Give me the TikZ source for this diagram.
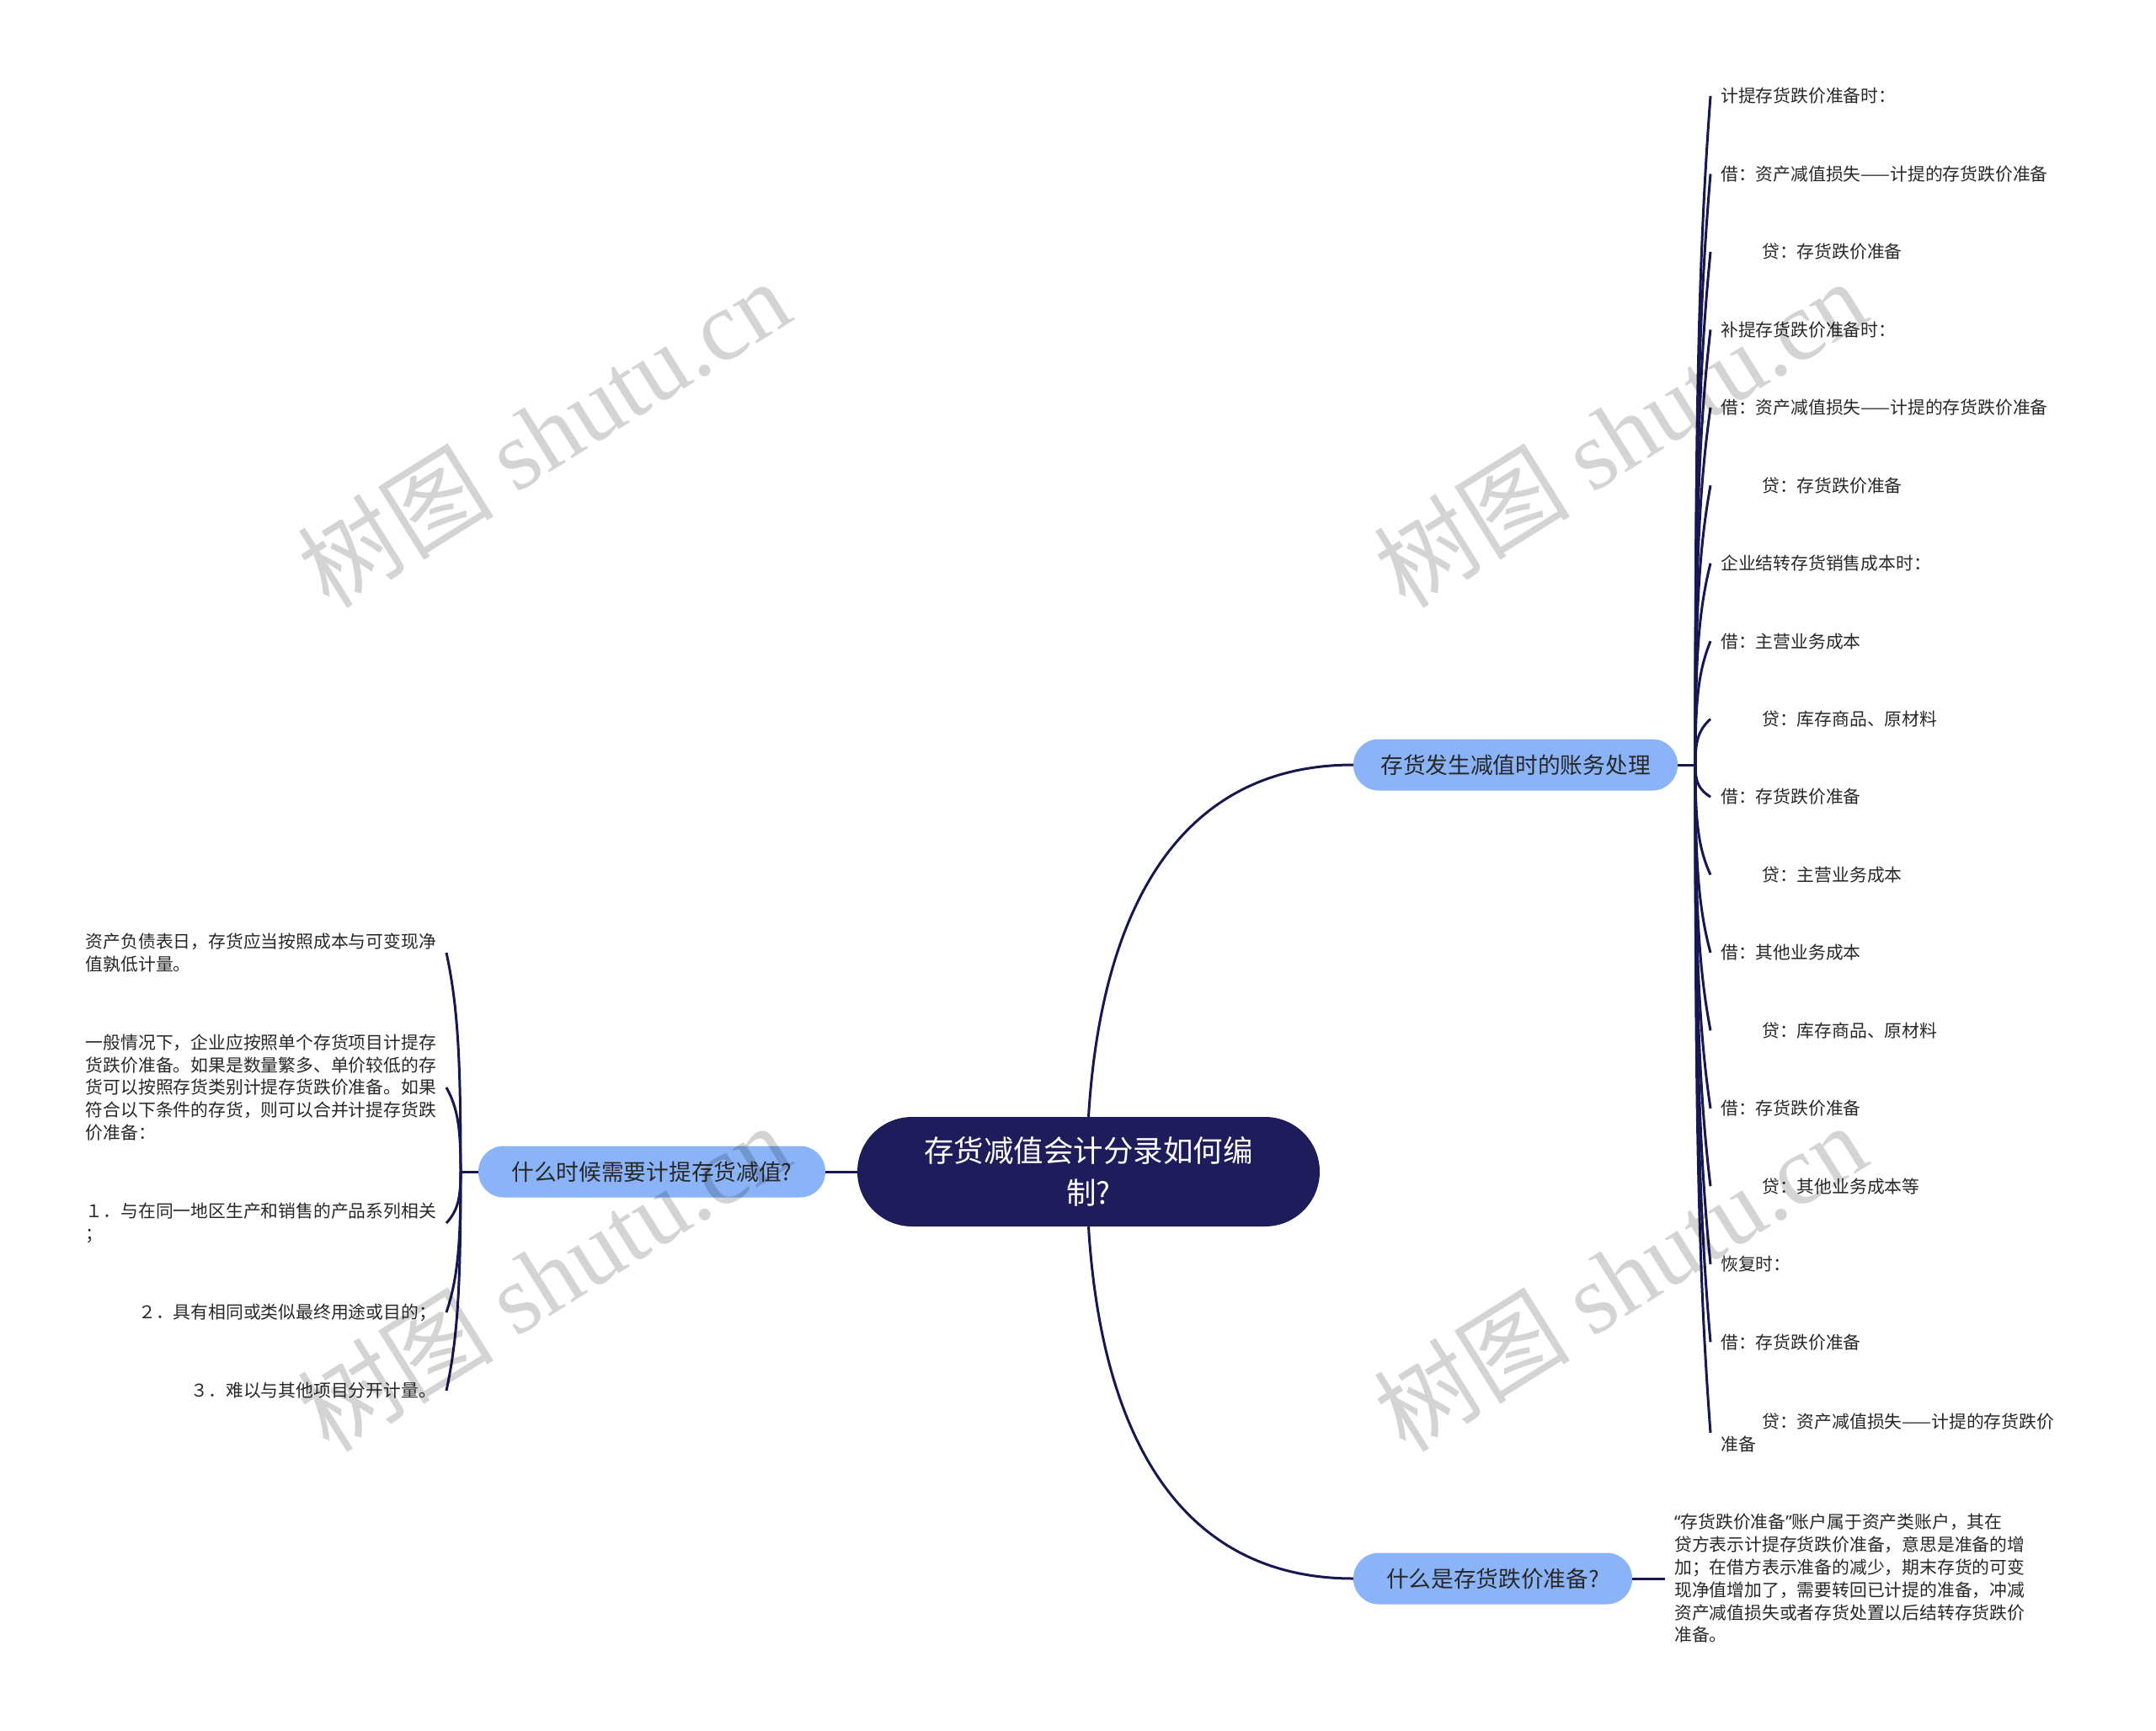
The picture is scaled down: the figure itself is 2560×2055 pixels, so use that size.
\documentclass[tikz,border=0pt]{standalone}
\usepackage{fontspec}
\setmainfont{Noto Sans CJK SC}
\newfontfamily\wmlatin{Liberation Serif}
\newfontfamily\latinq{Noto Sans}
\usetikzlibrary{calc}
\definecolor{navy}{RGB}{30,28,90}
\definecolor{lineblue}{RGB}{24,24,80}
\definecolor{pill}{RGB}{139,180,248}
\definecolor{txt}{RGB}{40,40,40}
\begin{document}
\begin{tikzpicture}[x=1pt,y=-1pt,
 conn/.style={draw=lineblue,line width=3pt},
 rootbox/.style={fill=navy,rounded corners=65pt,minimum width=549pt,minimum height=130pt,text=white,align=center,font=\fontsize{35.5}{50}\selectfont,inner sep=0pt},
 pillbox/.style={fill=pill,rounded corners=30pt,minimum height=61pt,inner sep=0pt,text=txt,font=\fontsize{26.7}{32}\selectfont},
 rleaf/.style={anchor=west,inner xsep=12pt,inner ysep=2pt,align=left,text=txt,font=\fontsize{20.8}{26.8}\selectfont},
 lleaf/.style={anchor=east,inner xsep=12pt,inner ysep=2pt,align=left,text=txt,font=\fontsize{20.8}{26.8}\selectfont},
 wm/.style={rotate=32,text=black,text opacity=0.17,font=\fontsize{117}{117}\selectfont}
]
\useasboundingbox[fill=white] (0,0) rectangle (2560,2055);

% main nodes
\node[rootbox] (root) at (1292.5,1391) {存货减值会计分录如何编\\制?};
\node[pillbox,minimum width=385pt] (b1) at (1799.5,908) {存货发生减值时的账务处理};
\node[pillbox,minimum width=331pt] (b2) at (1772.5,1874) {什么是存货跌价准备?};
\node[pillbox,minimum width=412pt] (b3) at (774,1391) {什么时候需要计提存货减值?};

\coordinate (hubR) at (2013,908);
\coordinate (hubL) at (547,1391);

% right leaves
\node[rleaf] (r1) at (2031,114) {计提存货跌价准备时：};
\node[rleaf] (r2) at (2031,206.5) {借：资产减值损失——计提的存货跌价准备};
\node[rleaf] (r3) at (2031,298.9) {\hspace*{49pt}贷：存货跌价准备};
\node[rleaf] (r4) at (2031,391.4) {补提存货跌价准备时：};
\node[rleaf] (r5) at (2031,483.8) {借：资产减值损失——计提的存货跌价准备};
\node[rleaf] (r6) at (2031,576.3) {\hspace*{49pt}贷：存货跌价准备};
\node[rleaf] (r7) at (2031,668.7) {企业结转存货销售成本时：};
\node[rleaf] (r8) at (2031,761.2) {借：主营业务成本};
\node[rleaf] (r9) at (2031,853.6) {\hspace*{49pt}贷：库存商品、原材料};
\node[rleaf] (r10) at (2031,946.1) {借：存货跌价准备};
\node[rleaf] (r11) at (2031,1038.5) {\hspace*{49pt}贷：主营业务成本};
\node[rleaf] (r12) at (2031,1131) {借：其他业务成本};
\node[rleaf] (r13) at (2031,1223.4) {\hspace*{49pt}贷：库存商品、原材料};
\node[rleaf] (r14) at (2031,1315.9) {借：存货跌价准备};
\node[rleaf] (r15) at (2031,1408.3) {\hspace*{49pt}贷：其他业务成本等};
\node[rleaf] (r16) at (2031,1500.8) {恢复时：};
\node[rleaf] (r17) at (2031,1593.2) {借：存货跌价准备};
\node[rleaf] (r18) at (2031,1701) {\hspace*{49pt}贷：资产减值损失——计提的存货跌价\\准备};

% branch 2 leaf
\node[rleaf,inner xsep=11pt] (d1) at (1977,1874) {{\latinq “}存货跌价准备{\latinq ”}账户属于资产类账户，其在\\贷方表示计提存货跌价准备，意思是准备的增\\加；在借方表示准备的减少，期末存货的可变\\现净值增加了，需要转回已计提的准备，冲减\\资产减值损失或者存货处置以后结转存货跌价\\准备。};

% left leaves
\node[lleaf] (l1) at (530,1131) {资产负债表日，存货应当按照成本与可变现净\\值孰低计量。};
\node[lleaf] (l2) at (530,1291) {一般情况下，企业应按照单个存货项目计提存\\货跌价准备。如果是数量繁多、单价较低的存\\货可以按照存货类别计提存货跌价准备。如果\\符合以下条件的存货，则可以合并计提存货跌\\价准备：};
\node[lleaf] (l3) at (530,1452) {１．与在同一地区生产和销售的产品系列相关\\；};
\node[lleaf] (l4) at (530,1558) {２．具有相同或类似最终用途或目的；};
\node[lleaf] (l5) at (530,1651) {３．难以与其他项目分开计量。};

% connectors
\draw[conn] (root.north) .. controls +(15,-246) and +(-207,0) .. (b1.west);
\draw[conn] (root.south) .. controls +(15,246) and +(-207,0) .. (b2.west);
\draw[conn] (root.west) -- (b3.east);
\draw[conn] (b1.east) -- (hubR);
\draw[conn] (b3.west) -- (hubL);
\draw[conn] (b2.east) -- (d1.west);
\foreach \i in {1,...,18}{
  \draw[conn] (hubR) .. controls ($(hubR)!0.5!(hubR|-r\i.west)$) and ($(hubR|-r\i.west)!0.25!(hubR)+(3,0)$) .. (r\i.west);
}
\foreach \i in {1,...,5}{
  \draw[conn] (hubL) .. controls ($(hubL)!0.5!(hubL|-l\i.east)$) and ($(hubL|-l\i.east)!0.25!(hubL)+(-3,0)$) .. (l\i.east);
}

% watermarks
\node[wm] (w1) at (645,514) {树图 {\wmlatin shutu.cn}};
\node[wm] (w2) at (1923,514) {树图 {\wmlatin shutu.cn}};
\node[wm] (w3) at (645,1516) {树图 {\wmlatin shutu.cn}};
\node[wm] (w4) at (1923,1516) {树图 {\wmlatin shutu.cn}};
\end{tikzpicture}
\end{document}
